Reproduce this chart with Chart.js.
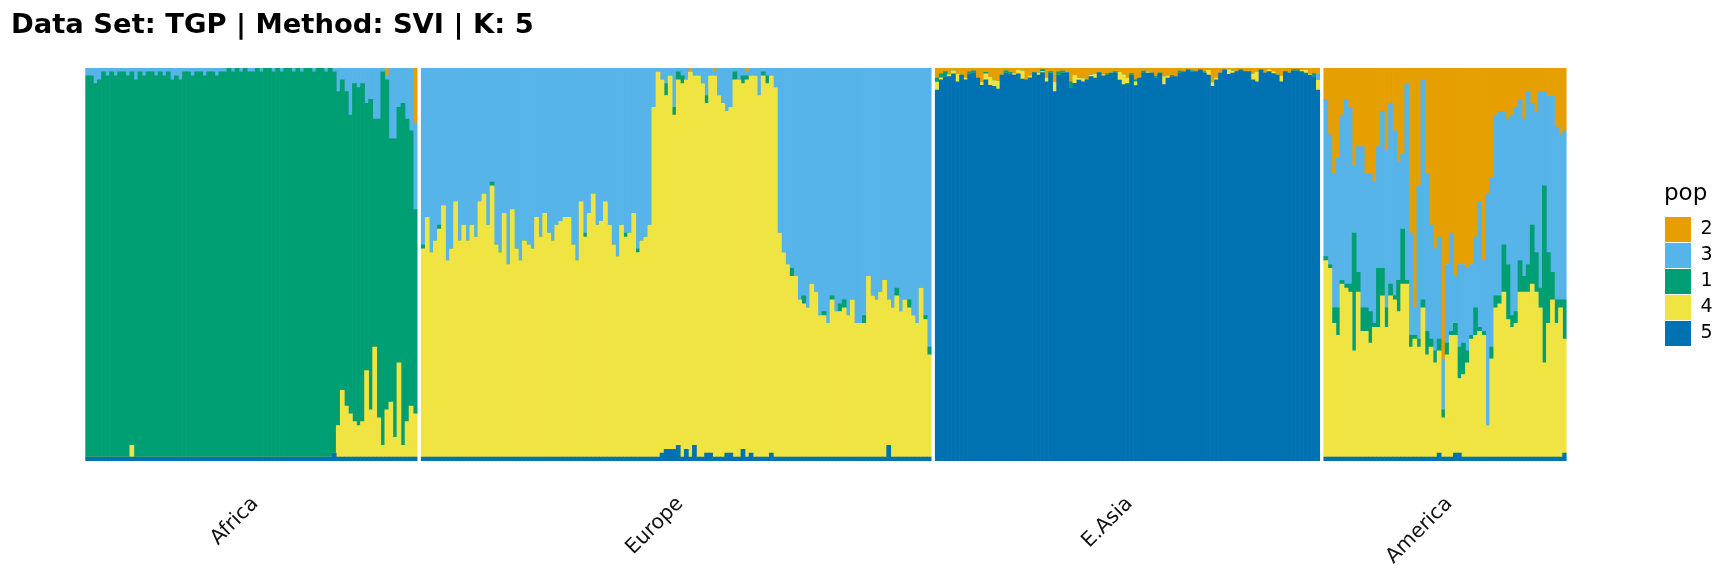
<!DOCTYPE html>
<html><head><meta charset="utf-8">
<script src="https://cdn.jsdelivr.net/npm/chart.js@4.4.1/dist/chart.umd.min.js"></script>
<style>html,body{margin:0;padding:0;background:#fff;}#c{display:block;}</style>
</head><body>
<canvas id="c" width="1728" height="576"></canvas>
<script>
const panels = ['Africa', 'Europe', 'E.Asia', 'America'];
const popNames = ['5', '4', '1', '3', '2'];            // stacking order, bottom to top
const popColors = ['#0072B2', '#F0E442', '#009E73', '#56B4E9', '#E69F00'];
const titleText = 'Data Set: TGP | Method: SVI | K: 5';

// ---- Africa (admixture shares, %) ----
const af_p5 = [1,1,1,1,1,1,1,1,1,1, 1,1,1,1,1,1,1,1,1,1, 1,1,1,1,1,1,1,1,1,1, 1,1,1,1,1,1,1,1,1,1,
  1,1,1,1,1,1,1,1,1,1, 1,1,1,1,1,1,1,1,1,1, 1,2,1,1,1,1,1,1,1,1, 1,1,1,1,1,1,1,1,1,1, 1,1];
const af_p4 = [0,0,0,0,0,0,0,0,0,0, 0,3,0,0,0,0,0,0,0,0, 0,0,0,0,0,0,0,0,0,0, 0,0,0,0,0,0,0,0,0,0,
  0,0,0,0,0,0,0,0,0,0, 0,0,0,0,0,0,0,0,0,0, 0,0,8,17,13,11,9,8,9,22, 12,28,10,3,12,14,5,24,3,9, 13,11];
const af_p1 = [97,97,95,96,98,97,98,97,98,98, 97,95,96,98,97,98,98,97,98,97, 98,96,97,96,98,98,97,98,98,97,
  98,98,97,98,98,99,98,99,98,99, 98,98,99,98,99,99,98,99,98,99, 99,98,99,98,99,99,98,99,99,98,
  99,97,85,79,80,76,86,86,86,68, 79,58,76,95,84,67,76,65,87,77, 70,52];
const af_p3 = [2,2,4,3,1,2,1,2,1,1, 2,1,3,1,2,1,1,2,1,2, 1,3,2,3,1,1,2,1,1,2, 1,1,2,1,1,0,1,0,1,0,
  1,1,0,1,0,0,1,0,1,0, 0,1,0,1,0,0,1,0,0,1, 0,1,6,3,6,12,4,5,4,9, 8,13,13,1,1,18,18,10,9,13, 16,22];
const af_p2 = [0,0,0,0,0,0,0,0,0,0, 0,0,0,0,0,0,0,0,0,0, 0,0,0,0,0,0,0,0,0,0, 0,0,0,0,0,0,0,0,0,0,
  0,0,0,0,0,0,0,0,0,0, 0,0,0,0,0,0,0,0,0,0, 0,0,0,0,0,0,0,0,0,0, 0,0,0,0,2,0,0,0,0,0, 0,14];

// ---- Europe ----
const eu_p5 = [1,1,1,1,1,1,1,1,1,1, 1,1,1,1,1,1,1,1,1,1, 1,1,1,1,1,1,1,1,1,1, 1,1,1,1,1,1,1,1,1,1,
  1,1,1,1,1,1,1,1,1,1, 1,1,1,1,1,1,1,1,1,2, 3,3,3,4,1,3,1,4,1,1, 2,2,1,1,1,2,2,1,1,3,
  1,2,1,1,1,1,2,1,1,1, 1,1,1,1,1,1,1,1,1,1, 1,1,1,1,1,1,1,1,1,1, 1,1,1,1,1,4,1,1,1,1, 1,1,1,1,1,1];
const eu_p4 = [53,61,52,55,58,64,50,53,65,55, 59,55,59,56,65,67,59,69,54,52, 62,49,63,53,50,55,54,53,61,56,
  62,57,55,59,60,61,61,54,50,65, 56,62,67,59,60,65,59,54,51,59, 56,57,62,52,55,56,59,89,98,95,
  90,95,85,93,95,94,98,94,97,95, 89,96,97,92,90,87,88,96,96,93, 96,96,97,92,97,95,96,94,57,52,
  49,46,46,40,39,38,44,42,36,36, 34,40,37,37,38,36,40,34,34,34, 46,41,40,42,45,37,38,41,37,40,
  38,36,34,43,35,26];
const eu_p1 = [1,0,0,0,1,0,0,0,0,0, 0,0,0,0,0,0,0,1,0,0, 0,0,0,0,0,0,0,0,0,0, 0,0,0,0,0,0,0,0,0,0,
  1,0,0,0,0,0,0,0,0,0, 1,0,0,1,0,0,0,0,0,0, 3,0,2,2,2,0,0,0,0,0, 2,0,0,0,0,0,0,2,0,2,
  1,0,0,0,1,2,0,0,0,0, 0,2,0,0,2,0,0,0,0,1, 0,1,0,2,2,0,0,0,0,2, 0,0,0,0,0,0,0,2,0,0, 2,0,0,0,1,2];
const eu_p3 = [45,38,47,44,40,35,49,46,34,44, 40,44,40,43,34,32,40,29,45,47, 37,50,36,46,49,44,45,46,38,43,
  37,42,44,40,39,38,38,45,49,34, 42,37,32,40,39,34,40,45,48,40, 42,42,37,46,44,43,40,10,1,3,
  4,2,10,1,2,3,0,2,2,4, 7,2,1,7,9,11,10,1,3,2, 1,2,2,7,1,2,2,5,42,47,
  50,51,53,59,58,61,55,57,63,62, 65,58,62,60,59,63,59,65,65,63, 53,58,59,57,54,59,61,56,62,59,
  59,63,65,56,63,71];
const eu_p2 = [0,0,0,0,0,0,0,0,0,0, 0,0,0,0,0,0,0,0,0,0, 0,0,0,0,0,0,0,0,0,0, 0,0,0,0,0,0,0,0,0,0,
  0,0,0,0,0,0,0,0,0,0, 0,0,0,0,0,0,0,0,0,0, 0,0,0,0,0,0,1,0,0,0, 0,0,1,0,0,0,0,0,0,0,
  1,0,0,0,0,0,0,0,0,0, 0,0,0,0,0,0,0,0,0,0, 0,0,0,0,0,0,0,0,0,0, 0,0,0,0,0,0,0,0,0,0, 0,0,0,0,0,0];

// ---- E.Asia ----
const ea_p5 = [94.4,97,97.8,97.8,98.5,96.5,98.2,97,98.5,98.8, 97.4,95.6,97,95.6,95.3,94.6,98.2,98.7,98.4,98.2,
  98.5,97.2,97,97.5,98.8,98.2,98.8,96.5,98.7,94, 98.2,98.7,98.8,95,96.1,96.9,96.5,97,97.8,97.4,
  98.8,98,98.2,98.7,98.8,96.9,95.8,96,98.2,95.5, 97.4,98.8,98.7,98.7,97.4,98.7,95.8,97.4,97.8,97.8,
  98.7,99,99.5,99,99.1,99.5,98.7,98.2,95.3,97, 98.7,99.5,98.4,98.7,99.1,99.5,99.1,99.1,97,96.5,
  99.5,98.7,99.1,98.6,98.2,96.5,99.1,98.7,99.3,99.3, 99.1,98.7,98.2,97.8,94.4];
const ea_p4 = [2,0.5,0,0.5,0.8,2,0,0.5,0,0, 0,0.8,1.5,2,1.5,2,0,0,0,0.4, 1,2,0,0.5,0,0.5,0.3,1,0,2.5,
  0,0,0,0,2,0.5,0.8,0,0.4,1, 0,0.3,0,0,0,2,2.5,1.5,0,1, 0,0,0.3,0,0,0,2,0.6,0,0,
  0,0,0,0,0,0,0,1.2,1,0.5, 0,0,1.2,0.5,0,0,0,0,1.5,2.5, 0,0,0.5,0.5,0,1.5,0,0,0,0, 0.3,0.8,0.3,0,2.5];
const ea_p1 = [1,1,1.3,0,0,0,0,0,0.5,0.5, 0,0,0.4,0,0,0,0,0.6,0.5,0, 0,0,0,0,0,0,0.5,0,0.4,0,
  0.8,0.5,0,1.5,0,0,0,0,0,0, 0,0,0.4,0,0.3,0,0,0,0.4,0.5, 0,0.4,0,0,0.5,0,0,0,0.3,0,
  0.5,0,0,0.3,0,0,0.3,0,0,0, 0,0,0,0,0,0,0,0,0,0, 0,0,0,0,0,0,0,0,0.3,0.3, 0,0,0,0.8,0];
const ea_p3 = [0,0,0,0,0,0,0,0,0,0, 0,0,0,0,0,0,0,0,0,0, 0,0,0,0,0,0,0,0,0,0, 0,0,0,0,0,0,0,0,0,0,
  0,0,0,0,0,0,0,0,0,0, 0,0,0,0,0,0,0,0,0,0, 0,0,0,0,0,0,0,0,0,0, 0,0,0,0,0,0,0,0,0,0,
  0,0,0,0,0,0,0,0,0,0, 0,0,0,0,1.5];
const ea_p2 = [2.6,1.5,0.9,1.7,0.7,1.5,1.8,2.5,1,0.7, 2.6,3.6,1.1,2.4,3.2,3.4,1.8,0.7,1.1,1.4,
  0.5,0.8,3,2,1.2,1.3,0.4,2.5,0.9,3.5, 1,0.8,1.2,3.5,1.9,2.6,2.7,3,1.8,1.6,
  1.2,1.7,1.4,1.3,0.9,1.1,1.7,2.5,1.4,3, 2.6,0.8,1,1.3,2.1,1.3,2.2,2,1.9,2.2,
  0.8,1,0.5,0.7,0.9,0.5,1,0.6,3.7,2.5, 1.3,0.5,0.4,0.8,0.9,0.5,0.9,0.9,1.5,1,
  0.5,1.3,0.4,0.9,1.8,2,0.9,1.3,0.4,0.4, 0.6,0.5,1.5,1.4,1.6];

// ---- America ----
const am_p5 = [1,1,1,1,1,1,1,1,1,1, 1,1,1,1,1,1,1,1,1,1, 1,1,1,1,1,1,1,1,2,1, 1,1,2,2,1,1,1,1,1,1,
  1,1,1,1,1,1,1,1,1,1, 1,1,1,1,1,1,1,1,1,2];
const am_p4 = [50,48,34,31,44,43,42,27,42,32, 32,29,33,33,41,33,41,40,37,44, 44,28,30,28,38,26,28,24,26,10,
  26,31,30,19,21,24,30,31,32,31, 8,25,38,39,42,35,33,34,42,42, 42,44,42,38,24,34,40,34,38,29];
const am_p1 = [1,1,4,7,1,1,2,30,5,6, 6,8,1,15,7,5,3,1,8,14, 1,3,1,2,2,6,2,3,3,2,
  3,1,3,8,8,3,1,7,1,1, 0,3,3,2,12,14,3,3,8,4, 7,15,10,5,45,18,7,6,2,10];
const am_p3 = [40,33,34,38,42,47,45,17,32,41, 34,35,36,31,40,40,46,42,30,19, 50,26,7,39,56,40,29,26,26,13,
  20,25,12,21,20,21,18,18,32,18, 59,43,46,47,34,37,51,52,41,40, 44,31,36,50,24,40,45,44,42,43];
const am_p2 = [8,17,27,23,12,8,10,25,20,20, 27,27,29,20,11,21,9,16,24,22, 4,42,61,30,3,27,40,46,43,74,
  50,42,53,50,50,51,50,43,34,49, 32,28,12,11,11,13,12,10,8,13, 6,9,11,6,6,7,7,15,17,16];

// ---- assemble the table Chart.js needs (each individual's shares scaled to sum 1) ----
const groups = [
  [af_p5, af_p4, af_p1, af_p3, af_p2],
  [eu_p5, eu_p4, eu_p1, eu_p3, eu_p2],
  [ea_p5, ea_p4, ea_p1, ea_p3, ea_p2],
  [am_p5, am_p4, am_p1, am_p3, am_p2]
];
const labels = [], tickText = [];
const series = [[], [], [], [], []];
groups.forEach((g, gi) => {
  const n = g[0].length;
  for (let i = 0; i < n; i++) {
    let tot = 0;
    for (let k = 0; k < 5; k++) tot += g[k][i];
    for (let k = 0; k < 5; k++) series[k].push(g[k][i] / tot);
    labels.push(panels[gi] + ' ' + (i + 1));
    tickText.push(i === Math.floor(n / 2) ? panels[gi] : '');
  }
  if (gi < groups.length - 1) {
    labels.push('');
    tickText.push('');
    for (let k = 0; k < 5; k++) series[k].push(null);
  }
});

const datasets = popNames.map((nm, k) => ({
  label: nm,
  data: series[k],
  backgroundColor: popColors[k],
  borderWidth: 0,
  barPercentage: 1,
  categoryPercentage: 1
}));

new Chart(document.getElementById('c'), {
  type: 'bar',
  data: { labels: labels, datasets: datasets },
  options: {
    responsive: false,
    animation: false,
    devicePixelRatio: 1,
    layout: { padding: { left: 11, right: 5.4, top: 0, bottom: 0 } },
    plugins: {
      tooltip: { enabled: false },
      title: {
        display: true, text: titleText, align: 'start', color: '#000',
        font: { family: 'DejaVu Sans', size: 27.4, weight: 'bold' },
        padding: { top: 9.3, bottom: 25.8 }
      },
      legend: {
        position: 'right', reverse: true, align: 'center', fullSize: false,
        title: {
          display: true, text: 'pop', color: '#000', position: 'start',
          font: { family: 'DejaVu Sans', size: 23 },
          padding: { top: 1, bottom: 5.4 }
        },
        labels: {
          boxWidth: 26, boxHeight: 25, padding: 1, color: '#000',
          font: { family: 'DejaVu Sans', size: 19 }
        }
      }
    },
    scales: {
      x: {
        stacked: true, offset: true,
        grid: { display: false, drawTicks: false },
        border: { display: false },
        ticks: {
          autoSkip: false, maxRotation: 45, minRotation: 45, padding: 31, labelOffset: 2,
          color: '#111', font: { family: 'DejaVu Sans', size: 20.4 },
          callback: (v, i) => tickText[i]
        },
        afterFit: (s) => { s.height = 115; }
      },
      y: {
        stacked: true, min: 0, max: 1,
        grid: { display: false }, border: { display: false },
        ticks: { display: false },
        afterFit: (s) => { s.width = 74.3; }
      },
      y2: {
        position: 'right', min: 0, max: 1,
        grid: { display: false }, border: { display: false },
        ticks: { display: false },
        afterFit: (s) => { s.width = 97.4; }
      }
    }
  }
});
</script>
</body></html>
